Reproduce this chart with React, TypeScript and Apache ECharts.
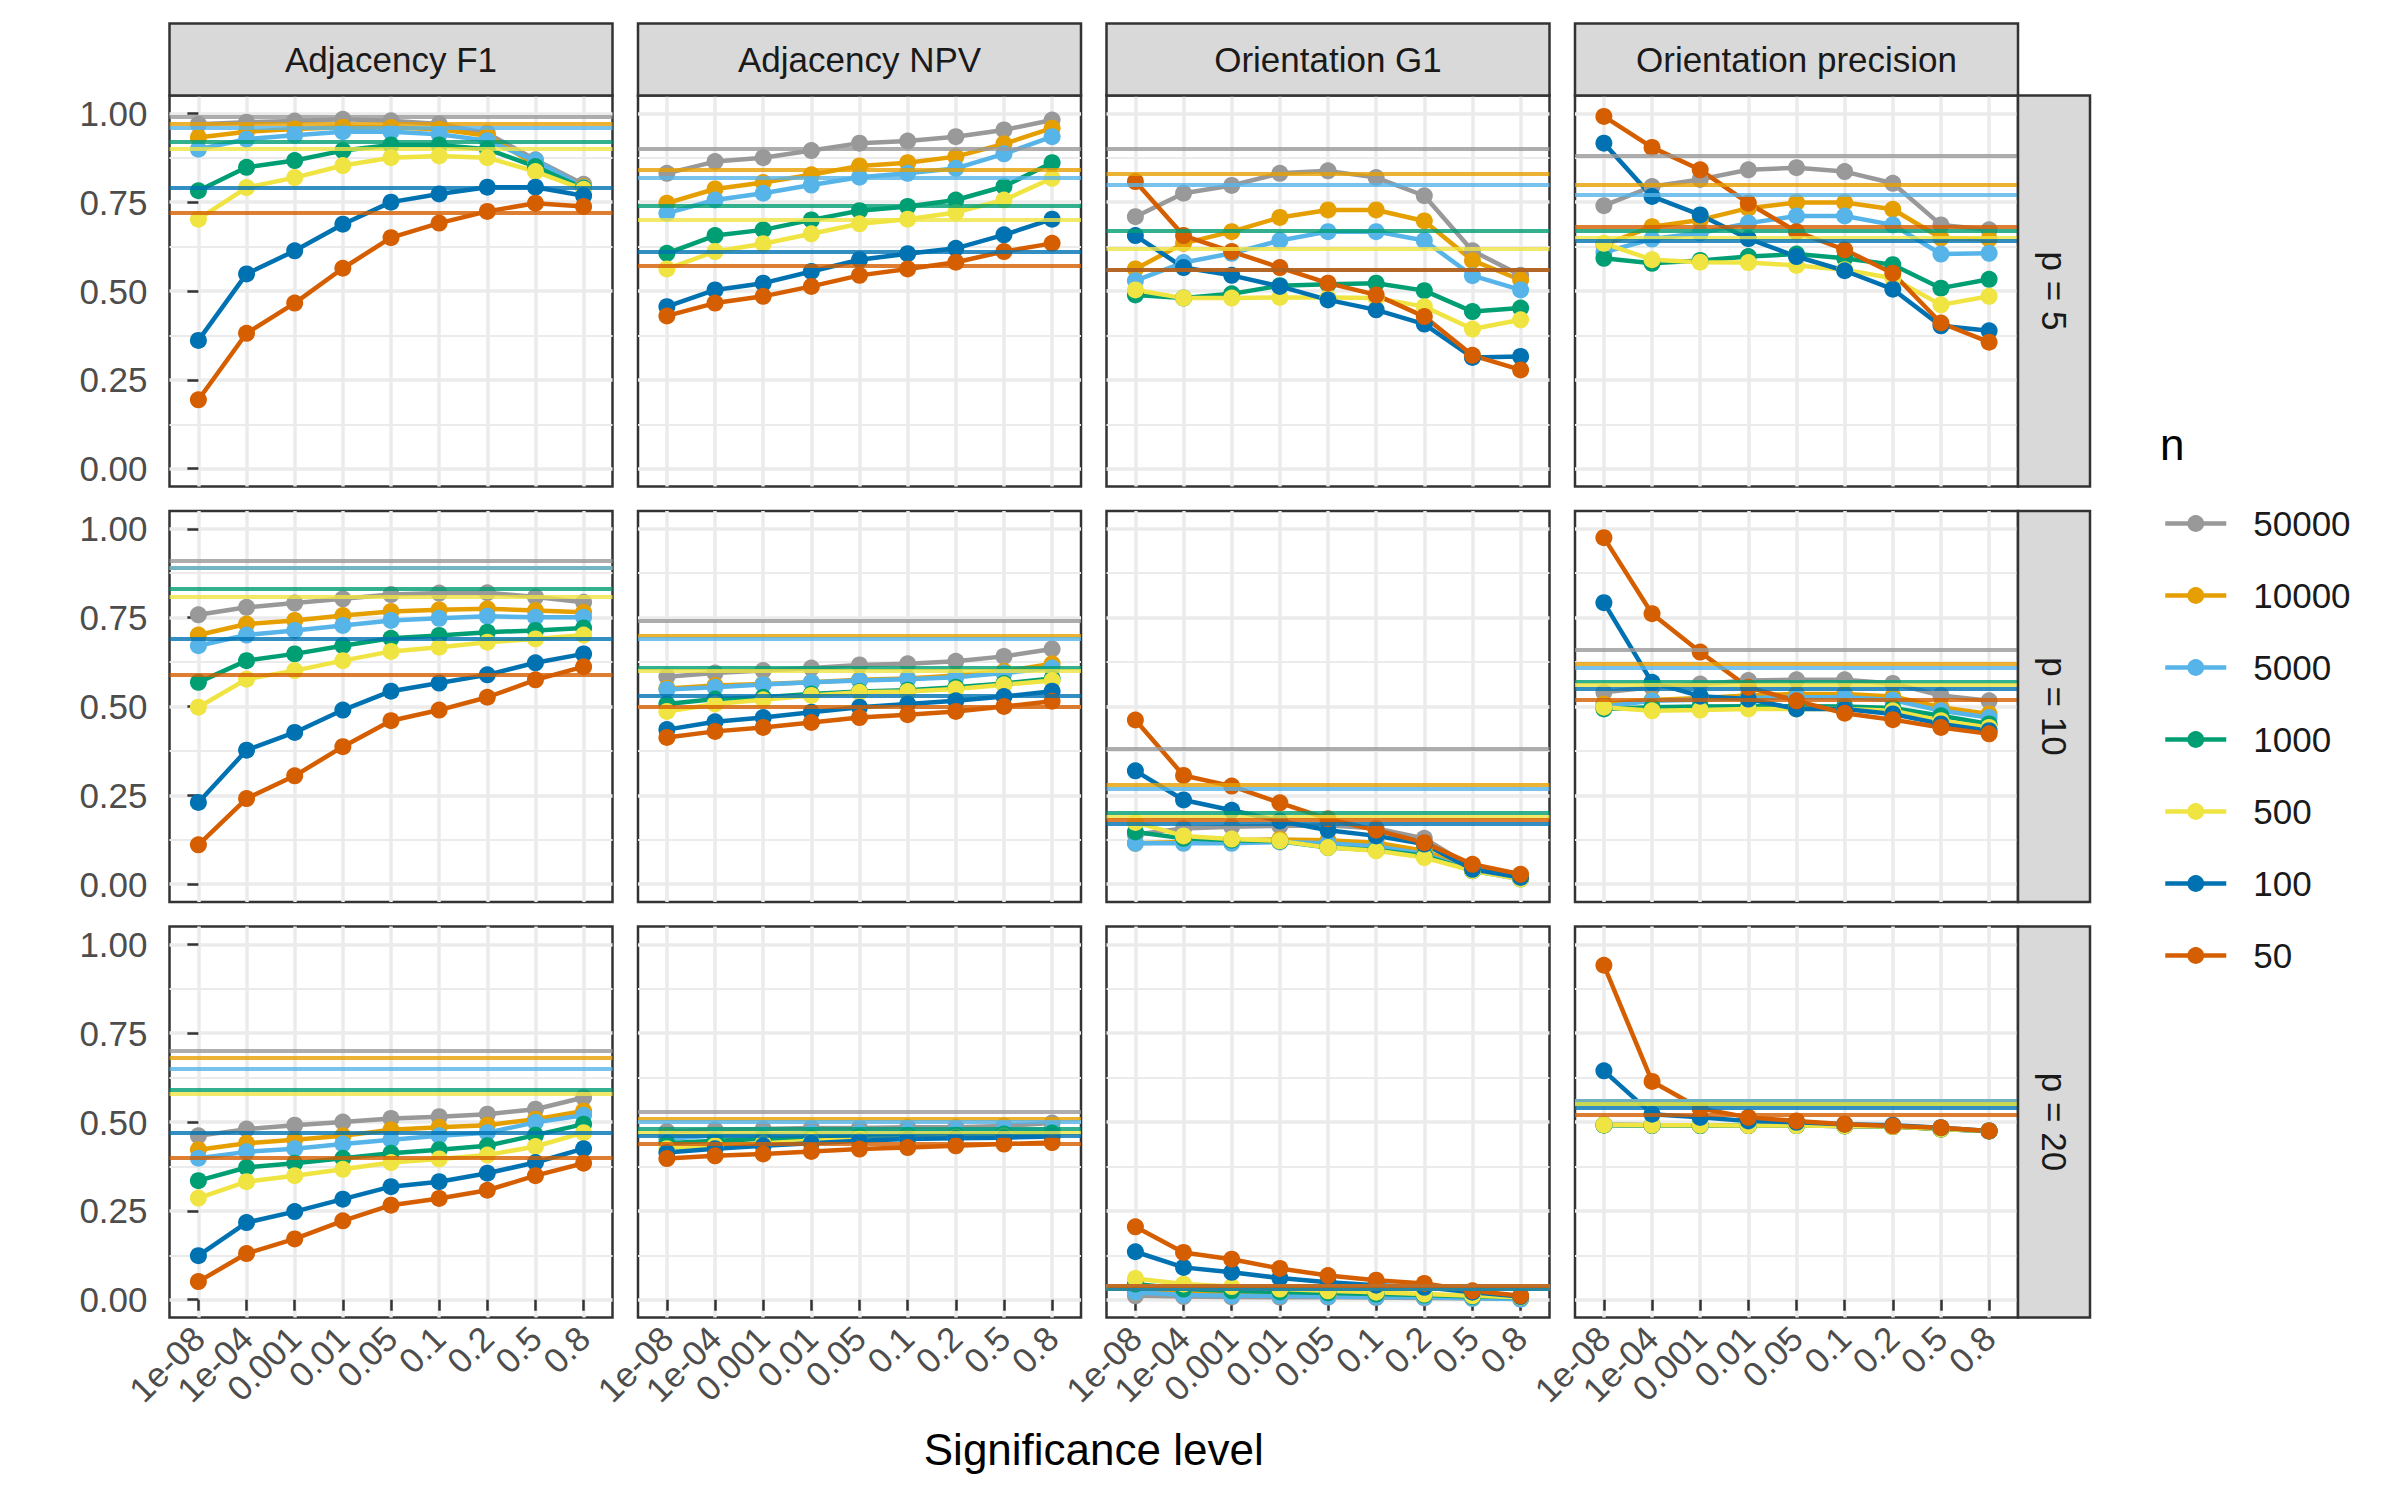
import React, { useEffect, useRef } from "react";
import * as echarts from "echarts";

// ---------- categories ----------
const sigLevels = ["1e-08", "1e-04", "0.001", "0.01", "0.05", "0.1", "0.2", "0.5", "0.8"];
const nLevels = ["50000", "10000", "5000", "1000", "500", "100", "50"];
const nColors = ["#999999", "#E69F00", "#56B4E9", "#009E73", "#F0E442", "#0072B2", "#D55E00"];
const metrics = ["Adjacency F1", "Adjacency NPV", "Orientation G1", "Orientation precision"];
const pLabels = ["p = 5", "p = 10", "p = 20"];
const yTicks = [0, 0.25, 0.5, 0.75, 1];
const yMinorTicks = [0.125, 0.375, 0.625, 0.875];
const xTicks = [0, 1, 2, 3, 4, 5, 6, 7, 8];
const xTicksEven = [0, 2, 4, 6, 8];
const xTicksOdd = [1, 3, 5, 7];

// ---------- p = 5 ----------
const adjF1_p5 = [
  [0.969, 0.975, 0.978, 0.983, 0.979, 0.970, 0.944, 0.869, 0.800],
  [0.932, 0.948, 0.956, 0.961, 0.960, 0.955, 0.937, 0.855, 0.794],
  [0.899, 0.927, 0.938, 0.948, 0.948, 0.941, 0.923, 0.867, 0.791],
  [0.782, 0.848, 0.867, 0.895, 0.911, 0.911, 0.899, 0.850, 0.789],
  [0.702, 0.791, 0.819, 0.853, 0.875, 0.880, 0.875, 0.836, 0.786],
  [0.361, 0.548, 0.613, 0.688, 0.750, 0.773, 0.792, 0.792, 0.768],
  [0.194, 0.381, 0.466, 0.564, 0.650, 0.691, 0.724, 0.747, 0.738],
];
const adjF1_p5_ref = [0.986, 0.974, 0.963, 0.923, 0.897, 0.794, 0.721];

const adjNPV_p5 = [
  [0.831, 0.864, 0.875, 0.895, 0.916, 0.922, 0.934, 0.953, 0.981],
  [0.747, 0.787, 0.805, 0.827, 0.852, 0.861, 0.878, 0.914, 0.958],
  [0.719, 0.756, 0.775, 0.798, 0.820, 0.831, 0.845, 0.886, 0.934],
  [0.606, 0.656, 0.672, 0.700, 0.726, 0.738, 0.756, 0.794, 0.861],
  [0.562, 0.611, 0.633, 0.661, 0.689, 0.702, 0.721, 0.756, 0.817],
  [0.456, 0.503, 0.522, 0.555, 0.588, 0.605, 0.620, 0.658, 0.702],
  [0.430, 0.466, 0.485, 0.513, 0.544, 0.562, 0.581, 0.611, 0.634],
];
const adjNPV_p5_ref = [0.897, 0.841, 0.825, 0.736, 0.700, 0.608, 0.574];

const oriG1_p5 = [
  [0.709, 0.775, 0.797, 0.831, 0.838, 0.819, 0.768, 0.613, 0.544],
  [0.562, 0.634, 0.667, 0.707, 0.728, 0.728, 0.697, 0.586, 0.531],
  [0.529, 0.580, 0.606, 0.642, 0.667, 0.667, 0.642, 0.543, 0.503],
  [0.489, 0.480, 0.492, 0.515, 0.519, 0.522, 0.501, 0.442, 0.452],
  [0.503, 0.480, 0.480, 0.482, 0.482, 0.480, 0.456, 0.393, 0.419],
  [0.656, 0.566, 0.544, 0.513, 0.475, 0.447, 0.407, 0.313, 0.316],
  [0.808, 0.656, 0.611, 0.566, 0.522, 0.489, 0.428, 0.319, 0.278],
];
const oriG1_p5_ref = [0.904, 0.833, 0.797, 0.665, 0.623, 0.555, 0.562];

const oriPrec_p5 = [
  [0.740, 0.794, 0.814, 0.841, 0.847, 0.836, 0.803, 0.686, 0.672],
  [0.630, 0.681, 0.700, 0.733, 0.749, 0.749, 0.730, 0.649, 0.646],
  [0.609, 0.646, 0.663, 0.691, 0.711, 0.711, 0.686, 0.604, 0.606],
  [0.592, 0.578, 0.586, 0.597, 0.604, 0.592, 0.574, 0.508, 0.533],
  [0.634, 0.588, 0.581, 0.580, 0.572, 0.560, 0.536, 0.461, 0.485],
  [0.916, 0.766, 0.714, 0.647, 0.597, 0.557, 0.505, 0.402, 0.388],
  [0.991, 0.904, 0.841, 0.747, 0.667, 0.616, 0.550, 0.410, 0.356],
];
const oriPrec_p5_ref = [0.875, 0.798, 0.768, 0.674, 0.653, 0.642, 0.681];

// ---------- p = 10 ----------
const adjF1_p10 = [
  [0.758, 0.779, 0.791, 0.803, 0.815, 0.819, 0.820, 0.808, 0.793],
  [0.701, 0.732, 0.742, 0.756, 0.767, 0.772, 0.775, 0.770, 0.765],
  [0.671, 0.701, 0.714, 0.728, 0.742, 0.748, 0.754, 0.751, 0.751],
  [0.568, 0.629, 0.648, 0.671, 0.692, 0.700, 0.709, 0.714, 0.721],
  [0.498, 0.577, 0.601, 0.629, 0.655, 0.667, 0.681, 0.690, 0.701],
  [0.230, 0.377, 0.427, 0.490, 0.543, 0.566, 0.589, 0.623, 0.648],
  [0.111, 0.241, 0.305, 0.387, 0.460, 0.490, 0.526, 0.575, 0.612],
];
const adjF1_p10_ref = [0.913, 0.894, 0.887, 0.834, 0.814, 0.685, 0.594];

const adjNPV_p10 = [
  [0.584, 0.594, 0.601, 0.608, 0.617, 0.620, 0.627, 0.641, 0.662],
  [0.551, 0.559, 0.563, 0.568, 0.575, 0.579, 0.587, 0.599, 0.620],
  [0.548, 0.554, 0.562, 0.568, 0.573, 0.577, 0.582, 0.594, 0.608],
  [0.507, 0.521, 0.526, 0.535, 0.542, 0.546, 0.554, 0.565, 0.579],
  [0.486, 0.507, 0.519, 0.531, 0.540, 0.542, 0.549, 0.561, 0.573],
  [0.435, 0.457, 0.469, 0.484, 0.498, 0.507, 0.516, 0.528, 0.543],
  [0.413, 0.430, 0.441, 0.455, 0.469, 0.477, 0.486, 0.500, 0.515],
];
const adjNPV_p10_ref = [0.744, 0.701, 0.690, 0.615, 0.603, 0.532, 0.498];

const oriG1_p10 = [
  [0.140, 0.157, 0.162, 0.164, 0.166, 0.157, 0.129, 0.047, 0.019],
  [0.115, 0.119, 0.124, 0.126, 0.124, 0.117, 0.094, 0.042, 0.019],
  [0.115, 0.115, 0.115, 0.119, 0.115, 0.106, 0.085, 0.038, 0.014],
  [0.147, 0.129, 0.124, 0.121, 0.103, 0.096, 0.080, 0.038, 0.016],
  [0.174, 0.136, 0.127, 0.122, 0.103, 0.094, 0.075, 0.038, 0.014],
  [0.319, 0.237, 0.208, 0.178, 0.152, 0.136, 0.113, 0.042, 0.019],
  [0.462, 0.306, 0.276, 0.229, 0.184, 0.152, 0.117, 0.056, 0.028],
];
const oriG1_p10_ref = [0.380, 0.283, 0.265, 0.203, 0.188, 0.169, 0.178];

const oriPrec_p10 = [
  [0.540, 0.554, 0.563, 0.573, 0.575, 0.575, 0.565, 0.531, 0.516],
  [0.507, 0.518, 0.524, 0.531, 0.535, 0.535, 0.528, 0.498, 0.479],
  [0.500, 0.516, 0.519, 0.524, 0.526, 0.526, 0.518, 0.488, 0.469],
  [0.493, 0.498, 0.500, 0.501, 0.501, 0.500, 0.496, 0.474, 0.451],
  [0.498, 0.488, 0.490, 0.493, 0.493, 0.493, 0.488, 0.460, 0.441],
  [0.792, 0.568, 0.529, 0.521, 0.493, 0.493, 0.479, 0.451, 0.432],
  [0.975, 0.761, 0.653, 0.554, 0.516, 0.481, 0.463, 0.441, 0.423],
];
const oriPrec_p10_ref = [0.662, 0.617, 0.606, 0.575, 0.563, 0.546, 0.524];

// ---------- p = 20 ----------
const adjF1_p20 = [
  [0.461, 0.480, 0.491, 0.500, 0.510, 0.515, 0.522, 0.536, 0.569],
  [0.422, 0.440, 0.450, 0.461, 0.478, 0.485, 0.491, 0.508, 0.531],
  [0.398, 0.416, 0.425, 0.438, 0.450, 0.461, 0.470, 0.499, 0.519],
  [0.335, 0.372, 0.384, 0.398, 0.412, 0.422, 0.433, 0.463, 0.494],
  [0.286, 0.332, 0.349, 0.367, 0.386, 0.396, 0.407, 0.431, 0.470],
  [0.124, 0.217, 0.248, 0.283, 0.318, 0.332, 0.356, 0.386, 0.425],
  [0.051, 0.130, 0.171, 0.222, 0.266, 0.285, 0.308, 0.349, 0.384],
];
const adjF1_p20_ref = [0.697, 0.677, 0.650, 0.590, 0.583, 0.473, 0.398];

const adjNPV_p20 = [
  [0.473, 0.478, 0.480, 0.483, 0.483, 0.485, 0.485, 0.489, 0.497],
  [0.459, 0.463, 0.464, 0.466, 0.469, 0.470, 0.470, 0.475, 0.480],
  [0.452, 0.463, 0.465, 0.469, 0.470, 0.472, 0.474, 0.478, 0.478],
  [0.440, 0.447, 0.452, 0.455, 0.458, 0.461, 0.463, 0.466, 0.469],
  [0.425, 0.433, 0.440, 0.447, 0.452, 0.455, 0.458, 0.461, 0.459],
  [0.414, 0.425, 0.433, 0.440, 0.447, 0.452, 0.454, 0.456, 0.459],
  [0.397, 0.405, 0.410, 0.417, 0.424, 0.428, 0.433, 0.438, 0.442],
];
const adjNPV_p20_ref = [0.530, 0.513, 0.501, 0.485, 0.475, 0.463, 0.438];

const oriG1_p20 = [
  [0.011, 0.009, 0.008, 0.007, 0.007, 0.006, 0.005, 0.004, 0.002],
  [0.021, 0.018, 0.016, 0.014, 0.013, 0.011, 0.009, 0.007, 0.005],
  [0.021, 0.013, 0.011, 0.011, 0.009, 0.008, 0.007, 0.004, 0.002],
  [0.044, 0.030, 0.025, 0.022, 0.019, 0.016, 0.013, 0.009, 0.007],
  [0.060, 0.044, 0.037, 0.030, 0.025, 0.021, 0.016, 0.011, 0.007],
  [0.135, 0.091, 0.077, 0.061, 0.049, 0.041, 0.035, 0.021, 0.009],
  [0.205, 0.133, 0.114, 0.088, 0.068, 0.055, 0.046, 0.025, 0.011],
];
const oriG1_p20_ref = [0.042, 0.038, 0.035, 0.032, 0.030, 0.033, 0.036];

const oriPrec_p20 = [
  [0.492, 0.491, 0.491, 0.491, 0.491, 0.489, 0.487, 0.480, 0.475],
  [0.492, 0.491, 0.491, 0.490, 0.490, 0.489, 0.487, 0.480, 0.475],
  [0.492, 0.491, 0.490, 0.490, 0.490, 0.489, 0.487, 0.480, 0.474],
  [0.491, 0.490, 0.490, 0.490, 0.490, 0.489, 0.487, 0.480, 0.475],
  [0.492, 0.491, 0.491, 0.490, 0.490, 0.489, 0.487, 0.480, 0.475],
  [0.644, 0.522, 0.513, 0.503, 0.499, 0.494, 0.491, 0.484, 0.475],
  [0.941, 0.614, 0.538, 0.513, 0.503, 0.494, 0.489, 0.484, 0.475],
];
const oriPrec_p20_ref = [0.562, 0.555, 0.557, 0.550, 0.547, 0.536, 0.516];

const panelValues = [
  [adjF1_p5, adjNPV_p5, oriG1_p5, oriPrec_p5],
  [adjF1_p10, adjNPV_p10, oriG1_p10, oriPrec_p10],
  [adjF1_p20, adjNPV_p20, oriG1_p20, oriPrec_p20],
];
const panelRefs = [
  [adjF1_p5_ref, adjNPV_p5_ref, oriG1_p5_ref, oriPrec_p5_ref],
  [adjF1_p10_ref, adjNPV_p10_ref, oriG1_p10_ref, oriPrec_p10_ref],
  [adjF1_p20_ref, adjNPV_p20_ref, oriG1_p20_ref, oriPrec_p20_ref],
];

// ---------- layout ----------
const FONT = "'Liberation Sans', Arial, Helvetica, sans-serif";
const COL_LEFT = [169.5, 638, 1106.5, 1575];
const PANEL_W = 443;
const ROW_TOP = [95.5, 511, 926.5];
const PANEL_H = 391;
const STRIP = 72;
const SMALL = 35;
const TITLE = 44;

function xLabel(show: boolean, values: number[]) {
  return {
    show,
    customValues: values,
    rotate: 45,
    margin: 15,
    showMinLabel: true,
    showMaxLabel: true,
    hideOverlap: false,
    formatter: (v: number) => sigLevels[Math.round(v)],
    color: "#4D4D4D",
    fontSize: SMALL,
    fontFamily: FONT,
  };
}

function buildOption(): any {
  const grid: any[] = [];
  const xAxis: any[] = [];
  const yAxis: any[] = [];
  const series: any[] = [];
  const graphic: any[] = [];

  for (let r = 0; r < 3; r++) {
    for (let c = 0; c < 4; c++) {
      const g = r * 4 + c;
      grid.push({
        left: COL_LEFT[c],
        top: ROW_TOP[r],
        width: PANEL_W,
        height: PANEL_H,
        show: true,
        backgroundColor: "#FFFFFF",
        borderColor: "#333333",
        borderWidth: 2.5,
        containLabel: false,
        outerBoundsMode: "none",
      });
      // main x axis: gridlines, ticks, labels of even positions
      xAxis.push({
        gridIndex: g,
        type: "value",
        position: "bottom",
        min: -0.6,
        max: 8.6,
        axisLine: { show: false },
        axisTick: {
          show: r === 2,
          customValues: xTicks,
          length: 11,
          lineStyle: { color: "#333333", width: 2.5 },
        },
        axisLabel: xLabel(r === 2, xTicksEven),
        splitLine: { show: true, lineStyle: { color: "#EBEBEB", width: 3.5 } },
      });
      // companion x axis (same scale): labels of odd positions
      xAxis.push({
        gridIndex: g,
        type: "value",
        position: "bottom",
        offset: 0,
        min: -0.6,
        max: 8.6,
        axisLine: { show: false },
        axisTick: { show: false, customValues: xTicksOdd },
        axisLabel: xLabel(r === 2, xTicksOdd),
        splitLine: { show: false },
      });
      yAxis.push({
        gridIndex: g,
        type: "value",
        min: -0.05,
        max: 1.05,
        axisLine: { show: false },
        axisTick: {
          show: c === 0,
          customValues: yTicks,
          length: 11,
          lineStyle: { color: "#333333", width: 2.5 },
        },
        axisLabel: {
          show: c === 0,
          customValues: yTicks,
          margin: 22,
          showMinLabel: true,
          showMaxLabel: true,
          formatter: (v: number) => v.toFixed(2),
          color: "#4D4D4D",
          fontSize: SMALL,
          fontFamily: FONT,
        },
        splitLine: { show: true, lineStyle: { color: "#EBEBEB", width: 3.5 } },
      });
      yAxis.push({
        gridIndex: g,
        type: "value",
        min: -0.05,
        max: 1.05,
        position: "left",
        axisLine: { show: false },
        axisTick: { show: false, customValues: yMinorTicks },
        axisLabel: { show: false, customValues: yMinorTicks },
        splitLine: { show: true, lineStyle: { color: "#EBEBEB", width: 1.8 } },
      });

      const vals = panelValues[r][c];
      const refs = panelRefs[r][c];
      for (let k = 0; k < nLevels.length; k++) {
        series.push({
          type: "line",
          name: nLevels[k],
          xAxisIndex: g * 2,
          yAxisIndex: g * 2,
          data: vals[k].map((v, i) => [i, v]),
          symbol: "circle",
          symbolSize: 17,
          showSymbol: true,
          lineStyle: { color: nColors[k], width: 4.5 },
          itemStyle: { color: nColors[k] },
          emphasis: { disabled: true },
          markLine: {
            silent: true,
            animation: false,
            symbol: ["none", "none"],
            label: { show: false },
            emphasis: { disabled: true },
            lineStyle: { color: nColors[k], width: 4, type: "solid", opacity: 0.8 },
            data: [{ yAxis: refs[k] }],
          },
        });
      }
    }
  }

  // top strips
  for (let c = 0; c < 4; c++) {
    graphic.push({
      type: "rect",
      z: 100,
      shape: { x: COL_LEFT[c], y: ROW_TOP[0] - STRIP, width: PANEL_W, height: STRIP },
      style: { fill: "#D9D9D9", stroke: "#333333", lineWidth: 2.5 },
    });
    graphic.push({
      type: "text",
      z: 101,
      x: COL_LEFT[c] + PANEL_W / 2,
      y: ROW_TOP[0] - STRIP / 2,
      style: {
        text: metrics[c],
        fill: "#1A1A1A",
        font: `${SMALL}px ${FONT}`,
        align: "center",
        verticalAlign: "middle",
      },
    });
  }
  // right strips
  const stripX = COL_LEFT[3] + PANEL_W;
  for (let r = 0; r < 3; r++) {
    graphic.push({
      type: "rect",
      z: 100,
      shape: { x: stripX, y: ROW_TOP[r], width: STRIP, height: PANEL_H },
      style: { fill: "#D9D9D9", stroke: "#333333", lineWidth: 2.5 },
    });
    graphic.push({
      type: "text",
      z: 101,
      x: stripX + STRIP / 2,
      y: ROW_TOP[r] + PANEL_H / 2,
      rotation: -Math.PI / 2,
      style: {
        text: pLabels[r],
        fill: "#1A1A1A",
        font: `${SMALL}px ${FONT}`,
        align: "center",
        verticalAlign: "middle",
      },
    });
  }
  // x axis title
  graphic.push({
    type: "text",
    z: 101,
    x: (COL_LEFT[0] + COL_LEFT[3] + PANEL_W) / 2,
    y: 1449,
    style: {
      text: "Significance level",
      fill: "#000000",
      font: `${TITLE}px ${FONT}`,
      align: "center",
      verticalAlign: "middle",
    },
  });
  // legend title
  graphic.push({
    type: "text",
    z: 101,
    x: 2160,
    y: 444,
    style: {
      text: "n",
      fill: "#000000",
      font: `${TITLE}px ${FONT}`,
      align: "left",
      verticalAlign: "middle",
    },
  });

  return {
    animation: false,
    backgroundColor: "#FFFFFF",
    grid,
    xAxis,
    yAxis,
    series,
    graphic,
    legend: {
      orient: "vertical",
      left: 2158,
      top: 501,
      itemWidth: 61,
      itemHeight: 21,
      itemGap: 37,
      selectedMode: false,
      data: nLevels,
      lineStyle: { width: 4.5 },
      textStyle: {
        fontSize: SMALL,
        color: "#1A1A1A",
        fontFamily: FONT,
        padding: [0, 0, 0, 22],
      },
    },
  };
}

export default function App() {
  const ref = useRef<HTMLDivElement>(null);
  useEffect(() => {
    if (!ref.current) return;
    const chart = echarts.init(ref.current, null, { renderer: "svg" });
    chart.setOption(buildOption());
    return () => chart.dispose();
  }, []);
  return (
    <div
      ref={ref}
      style={{ position: "absolute", left: 0, top: 0, width: 2400, height: 1500, background: "#fff" }}
    />
  );
}
